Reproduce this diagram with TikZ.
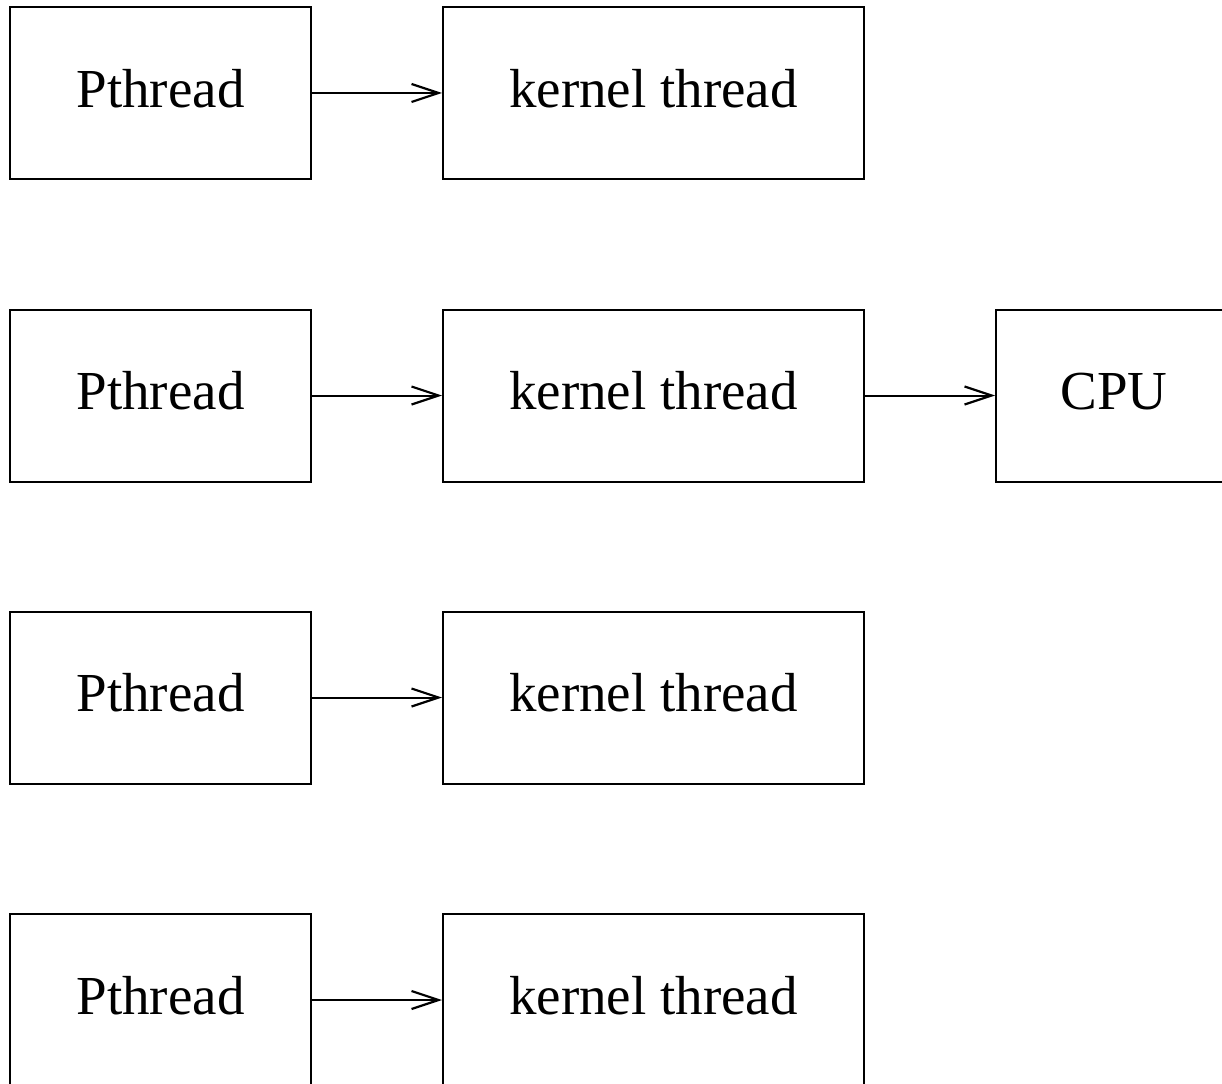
\documentclass[tikz,border=0pt]{standalone}
\usepackage{fontspec}
\setmainfont{Liberation Serif}
\usetikzlibrary{arrows.meta}
\begin{document}
\begin{tikzpicture}[x=1pt,y=-1pt,
  box/.style={draw, line width=2pt, minimum height=172pt, inner sep=0pt,
    font=\fontsize{55}{62}\selectfont, text height=37.6pt, text depth=8.8pt},
  pbox/.style={box, minimum width=301pt},
  kbox/.style={box, minimum width=421pt},
  cbox/.style={box, minimum width=236pt},
  conn/.style={line width=2pt, -{Straight Barb[length=27pt,width=18pt,line width=2.2pt]}}]
\useasboundingbox (0,0) rectangle (1222,1083);
\clip (0,0) rectangle (1222,1083);
\node[pbox] (p1) at (160.5,93) {Pthread};
\node[kbox] (k1) at (653.5,93) {kernel thread};
\node[pbox] (p2) at (160.5,395.5) {Pthread};
\node[kbox] (k2) at (653.5,395.5) {kernel thread};
\node[cbox] (c2) at (1114,395.5) {CPU};
\node[pbox] (p3) at (160.5,697.5) {Pthread};
\node[kbox] (k3) at (653.5,697.5) {kernel thread};
\node[pbox] (p4) at (160.5,1000) {Pthread};
\node[kbox] (k4) at (653.5,1000) {kernel thread};
\draw[conn] (p1) -- (k1);
\draw[conn] (p2) -- (k2);
\draw[conn] (k2) -- (c2);
\draw[conn] (p3) -- (k3);
\draw[conn] (p4) -- (k4);
\end{tikzpicture}
\end{document}
